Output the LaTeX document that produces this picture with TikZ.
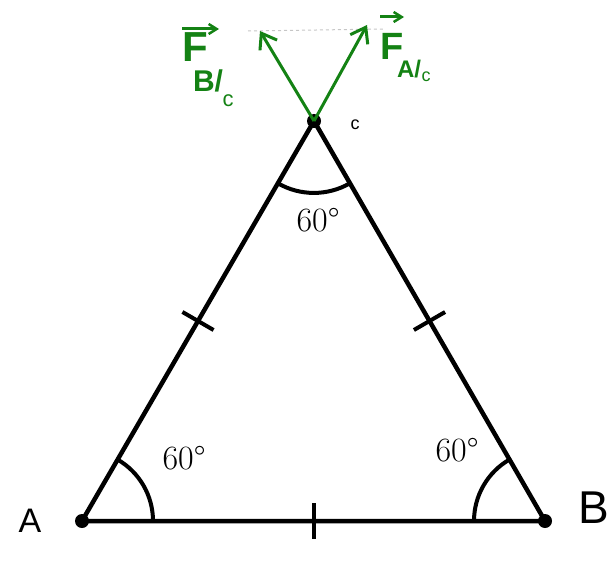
\documentclass[tikz,border=0pt]{standalone}
\usepackage{fontspec}
\setsansfont{Liberation Sans}
\usetikzlibrary{arrows.meta,calc}
\definecolor{fgreen}{RGB}{20,130,20}
\begin{document}
\begin{tikzpicture}[x=1pt,y=-1pt,
  side/.style={line width=4.5pt},
  dot/.style={circle,fill=black,inner sep=0pt,minimum size=14pt},
  force/.style={fgreen,line width=3pt,-{Straight Barb[length=14pt,width=20pt,line width=3pt]}},
  vecarrow/.style={fgreen,line width=3pt,-{Straight Barb[length=8pt,width=10pt,line width=2.5pt]}},
  tickmark/.style={line width=4pt},
  anglearc/.style={line width=4pt},
  lab/.style={font=\sffamily\fontsize{34}{34}\selectfont},
  ang/.style={font=\fontsize{34}{34}\selectfont},
  fbig/.style={fgreen,inner sep=0pt,font=\sffamily\bfseries\fontsize{42}{42}\selectfont},
  fsub/.style={fgreen,inner sep=0pt,font=\sffamily\bfseries\fontsize{30}{30}\selectfont},
  fsml/.style={fgreen,inner sep=0pt,font=\sffamily\fontsize{22}{22}\selectfont}]
\useasboundingbox (0,0) rectangle (615,564);
\coordinate (A) at (82,521);
\coordinate (B) at (545,521);
\coordinate (C) at (314,121);
\draw[side,line join=round] (A) -- (B) -- (C) -- cycle;
% angle arcs
\draw[anglearc] ($(A)!71pt!(B)$) arc[start angle=0,end angle=-60,radius=71];
\draw[anglearc] ($(B)!71pt!(A)$) arc[start angle=180,end angle=240,radius=71];
\draw[anglearc] ($(C)!72pt!(A)$) arc[start angle=120,end angle=60,radius=72];
% ticks
\draw[tickmark] ($(A)!0.5!(B)!18pt!90:(B)$) -- ($(A)!0.5!(B)!18pt!-90:(B)$);
\draw[tickmark] ($(A)!0.5!(C)!18pt!90:(C)$) -- ($(A)!0.5!(C)!18pt!-90:(C)$);
\draw[tickmark] ($(B)!0.5!(C)!18pt!90:(C)$) -- ($(B)!0.5!(C)!18pt!-90:(C)$);
% dots
\node[dot] (dA) at (A) {};
\node[dot] (dB) at (B) {};
\node[dot] (dC) at (C) {};
% labels
\node[lab] (lA) at (30,521) {A};
\node[lab,font=\sffamily\fontsize{46}{46}\selectfont] (lB) at (594,508) {B};
\node[font=\sffamily\fontsize{18}{18}\selectfont] (lC) at (355,125) {c};
\node[ang] (aA) at (184,458) {60°};
\node[ang] (aB) at (457,450) {60°};
\node[ang] (aC) at (318,220) {60°};
% forces
\coordinate (tB) at (260,31);
\coordinate (tA) at (367,25);
\draw[gray!45,dashed,line width=1pt] (248,31) -- (385,29);
\draw[force] (C) -- (tB);
\draw[force] (C) -- (tA);
% F B/C
\node[fbig] (FB) at (195,47) {F};
\node[fsub] (FBs) at (208,81) {B/};
\node[fsml] (FBc) at (228,101) {c};
\coordinate (FBa) at (182,29);
\coordinate (FBb) at (219,29);
\draw[vecarrow] (FBa) -- (FBb);
% F A/C
\node[fbig,font=\sffamily\bfseries\fontsize{38}{38}\selectfont] (FA) at (392,46) {F};
\node[fsub,font=\sffamily\bfseries\fontsize{24}{24}\selectfont] (FAs) at (409,69) {A/};
\node[fsml,font=\sffamily\fontsize{18}{18}\selectfont] (FAc) at (426,77) {c};
\coordinate (FAa) at (380,17);
\coordinate (FAb) at (404,17);
\draw[vecarrow] (FAa) -- (FAb);
\end{tikzpicture}
\end{document}
